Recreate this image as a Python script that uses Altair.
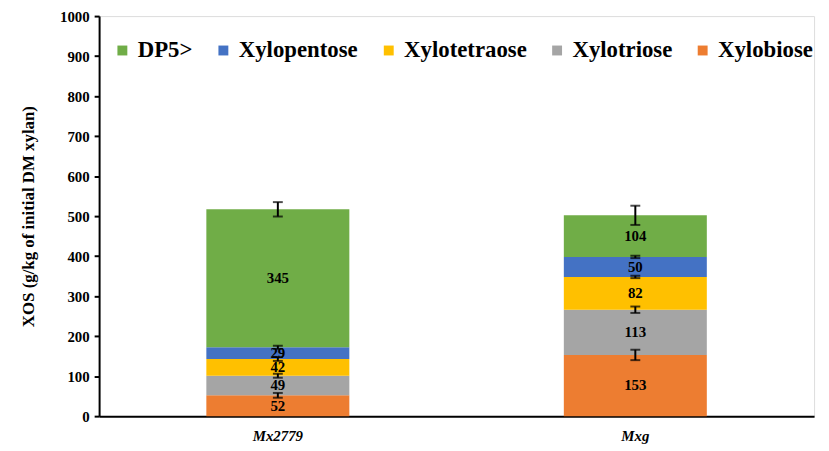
import altair as alt
import pandas as pd

samples = ["Mx2779", "Mxg"]
components = ["Xylobiose", "Xylotriose", "Xylotetraose", "Xylopentose", "DP5>"]
mx2779_values = [52, 49, 42, 29, 345]
mxg_values = [153, 113, 82, 50, 104]
mx2779_err = [6, 5, 5, 4, 18]
mxg_err = [13, 8, 3, 3, 24]

legend_order = ["DP5>", "Xylopentose", "Xylotetraose", "Xylotriose", "Xylobiose"]
legend_colors = ["#70AD47", "#4472C4", "#FFC000", "#A5A5A5", "#ED7D31"]

rows = []
for s, vals, errs in [(samples[0], mx2779_values, mx2779_err), (samples[1], mxg_values, mxg_err)]:
    for i, (c, v, e) in enumerate(zip(components, vals, errs)):
        rows.append({"sample": s, "component": c, "rank": i, "value": v, "err": e})
df = pd.DataFrame(rows)

FONT = "Liberation Serif, Times New Roman, serif"

base = alt.Chart(df).transform_stack(
    stack="value", groupby=["sample"], as_=["y0", "y1"], sort=[alt.SortField("rank", order="ascending")]
).transform_calculate(
    mid="(datum.y0 + datum.y1) / 2",
    lo="datum.y1 - datum.err",
    hi="datum.y1 + datum.err",
)

xenc = alt.X(
    "sample:N",
    sort=samples,
    scale=alt.Scale(paddingInner=0.6, paddingOuter=0.3),
    axis=alt.Axis(
        title=None, labelAngle=0, ticks=False, labelFont=FONT, labelFontSize=15,
        labelFontWeight="bold", labelFontStyle="italic", labelColor="#000000",
        labelPadding=13, domainColor="#000000", domainWidth=2,
    ),
)

yscale = alt.Scale(domain=[0, 1000])

bars = base.mark_bar().encode(
    x=xenc,
    y=alt.Y(
        "y0:Q", scale=yscale,
        axis=alt.Axis(
            title="XOS (g/kg of initial DM xylan)", values=list(range(0, 1001, 100)), format="d",
            grid=False, tickSize=5, tickColor="#000000", tickWidth=2,
            labelFont=FONT, labelFontSize=15, labelFontWeight="bold", labelColor="#000000",
            labelPadding=5, domainColor="#000000", domainWidth=2,
            titleFont=FONT, titleFontSize=17, titleFontWeight="bold", titleColor="#000000",
            titlePadding=22,
        ),
    ),
    y2="y1:Q",
    color=alt.Color(
        "component:N",
        scale=alt.Scale(domain=legend_order, range=legend_colors),
        legend=alt.Legend(
            title=None, orient="none", direction="horizontal", legendX=12, legendY=23,
            symbolType="square", symbolSize=100, symbolStrokeWidth=0,
            labelFont=FONT, labelFontSize=23, labelFontWeight="bold", labelColor="#000000",
            labelOffset=4, columnPadding=19, labelLimit=300,
        ),
    ),
)

labels = base.mark_text(font=FONT, fontSize=15, fontWeight="bold", color="#000000").encode(
    x=alt.X("sample:N", sort=samples),
    y=alt.Y("mid:Q", scale=yscale),
    text=alt.Text("value:Q"),
)

rules = base.mark_rule(color="#000000", strokeWidth=2).encode(
    x=alt.X("sample:N", sort=samples),
    y=alt.Y("lo:Q", scale=yscale),
    y2="hi:Q",
)

caps_lo = base.mark_tick(color="#000000", size=10, thickness=2).encode(
    x=alt.X("sample:N", sort=samples),
    y=alt.Y("lo:Q", scale=yscale),
)
caps_hi = base.mark_tick(color="#000000", size=10, thickness=2).encode(
    x=alt.X("sample:N", sort=samples),
    y=alt.Y("hi:Q", scale=yscale),
)

chart = alt.layer(bars, labels, rules, caps_lo, caps_hi).properties(
    width=722, height=404,
    autosize=alt.AutoSizeParams(type="none"),
    padding={"left": 92, "top": 6, "right": 7, "bottom": 30},
).configure_view(stroke="#000000", strokeWidth=2).configure_legend(
    labelFont=FONT, labelFontWeight="bold"
).configure(background="#ffffff")

chart.save("out.html", embed_options={"renderer": "svg", "actions": False})
